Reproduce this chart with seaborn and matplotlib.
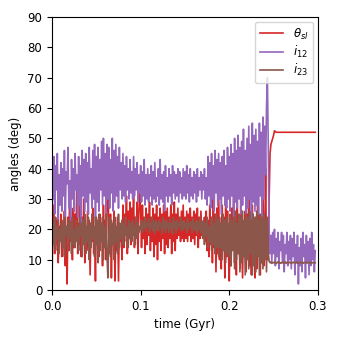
import numpy as np
import pandas as pd
import seaborn as sns
import matplotlib.pyplot as plt

theta_sl = [
    4, 22, 28, 12, 24, 15, 23, 9, 21, 17,
    25, 11, 22, 14, 26, 8, 20, 2, 24, 13,
    35, 16, 23, 10, 27, 14, 25, 18, 34, 12,
    22, 15, 28, 11, 24, 17, 30, 9, 21, 14,
    26, 13, 23, 5, 22, 16, 27, 12, 20, 3,
    24, 15, 21, 11, 25, 17, 22, 8, 28, 14,
    23, 10, 30, 47, 18, 12, 25, 4, 21, 15,
    26, 3, 20, 13, 24, 3, 22, 16, 19, 10,
    28, 14, 25, 18, 31, 12, 26, 17, 29, 15,
    27, 19, 32, 14, 24, 18, 29, 12, 26, 33,
    26, 14, 28, 17, 24, 12, 27, 15, 25, 18,
    29, 13, 24, 16, 27, 11, 25, 15, 28, 10,
    24, 16, 27, 13, 25, 17, 28, 12, 26, 15,
    27, 14, 24, 17, 28, 12, 25, 16, 29, 13,
    25, 17, 27, 18, 24, 16, 26, 17, 28, 16,
    24, 17, 26, 16, 25, 18, 27, 16, 24, 17,
    26, 15, 25, 18, 27, 14, 24, 17, 26, 18,
    22, 17, 24, 16, 26, 13, 23, 11, 28, 15,
    24, 9, 30, 14, 25, 6, 27, 12, 33, 10,
    22, 7, 28, 15, 24, 4, 31, 11, 26, 13,
    3, 22, 8, 27, 14, 35, 9, 23, 5, 30,
    12, 24, 7, 29, 16, 4, 22, 11, 26, 6,
    25, 13, 33, 8, 21, 5, 28, 10, 19, 4,
    24, 7, 30, 12, 18, 5, 22, 9, 36, 8,
    15, 40, 11, 10, 10, 30, 45, 48, 49, 50,
    51, 52.5, 52.2, 52, 52, 52, 52, 52, 52, 52,
    52, 52, 52, 52, 52, 52, 52, 52, 52, 52,
    52, 52, 52, 52, 52, 52, 52, 52, 52, 52,
    52, 52, 52, 52, 52, 52, 52, 52, 52, 52,
    52, 52, 52, 52, 52, 52, 52, 52,
]

i12 = [
    47, 30, 44, 25, 41, 33, 45, 22, 38, 28,
    42, 26, 40, 31, 46, 24, 39, 35, 47, 27,
    36, 23, 43, 30, 40, 26, 45, 33, 38, 24,
    44, 28, 41, 22, 46, 31, 43, 26, 45, 29,
    42, 25, 47, 32, 40, 27, 46, 30, 48, 24,
    44, 29, 47, 26, 43, 33, 49, 28, 50, 31,
    45, 25, 48, 30, 47, 27, 43, 32, 50, 26,
    46, 29, 48, 31, 44, 27, 47, 33, 42, 30,
    45, 31, 41, 29, 44, 33, 40, 30, 43, 32,
    39, 30, 44, 31, 40, 33, 42, 29, 38, 32,
    41, 29, 39, 31, 43, 28, 38, 30, 40, 29,
    38, 31, 41, 28, 39, 30, 42, 29, 37, 31,
    40, 28, 43, 30, 38, 29, 39, 26, 41, 31,
    37, 29, 40, 31, 38, 28, 41, 32, 39, 30,
    38, 31, 40, 29, 39, 32, 37, 30, 40, 31,
    39, 30, 41, 32, 38, 29, 40, 31, 37, 30,
    39, 32, 38, 29, 40, 31, 37, 33, 39, 30,
    38, 33, 40, 30, 37, 28, 44, 31, 42, 27,
    45, 30, 41, 26, 46, 32, 43, 28, 45, 30,
    42, 25, 44, 31, 46, 28, 41, 27, 47, 30,
    44, 26, 48, 31, 45, 24, 50, 29, 46, 27,
    51, 30, 47, 25, 49, 28, 53, 31, 46, 24,
    50, 27, 54, 30, 48, 23, 55, 29, 51, 26,
    53, 28, 49, 25, 55, 31, 52, 24, 57, 30,
    54, 38, 60, 70, 48, 20, 12, 18, 9, 19,
    12, 20, 8, 17, 11, 19, 7, 16, 13, 19,
    9, 18, 6, 15, 12, 19, 8, 16, 10, 18,
    7, 17, 11, 19, 5, 15, 9, 18, 2, 14,
    8, 17, 6, 19, 11, 15, 4, 18, 9, 16,
    5, 17, 8, 19, 10, 15, 6, 13,
]

i23 = [
    18, 22, 15, 24, 13, 21, 17, 23, 12, 20,
    16, 23, 14, 22, 11, 24, 18, 21, 13, 23,
    17, 22, 12, 24, 15, 20, 14, 23, 16, 21,
    13, 24, 18, 22, 11, 23, 15, 25, 12, 21,
    16, 24, 10, 22, 14, 25, 17, 21, 11, 24,
    15, 23, 9, 25, 13, 22, 16, 24, 10, 21,
    14, 25, 12, 4, 17, 24, 11, 23, 15, 22,
    10, 24, 16, 21, 12, 25, 14, 22, 17, 23,
    15, 22, 18, 24, 16, 21, 14, 23, 17, 22,
    16, 23, 18, 21, 15, 24, 17, 22, 19, 21,
    20, 23, 19, 22.5, 20.5, 24, 19.5, 22, 21, 23.5,
    19, 22, 20.5, 24, 19.5, 22.5, 18.5, 23, 20, 22,
    19.5, 23, 21, 22, 18.5, 24, 20, 22.5, 19, 23,
    20.5, 22, 19, 23.5, 20, 22, 18.5, 24, 20.5, 22.5,
    19, 23, 20, 22, 21, 24, 19.5, 22.5, 20, 23,
    20.5, 22, 19, 23.5, 20, 22, 21, 22.5, 19, 23.5,
    20, 22, 19.5, 23, 18.5, 22.5, 20, 24, 19, 22.5,
    17, 23, 15, 22, 18, 24, 14, 21, 16, 23,
    13, 24, 15, 22, 12, 25, 14, 23, 11, 24,
    14, 22, 10, 25, 13, 23, 9, 24, 12, 22,
    11, 25, 8, 23, 13, 24, 7, 26, 10, 22,
    12, 25, 6, 24, 9, 26, 11, 23, 5, 25,
    10, 24, 7, 26, 12, 23, 5, 25, 8, 24,
    6, 26, 11, 23, 5, 25, 9, 24, 7, 25,
    10, 23, 6, 24, 12, 9.5, 9.0, 9.2, 8.8, 9.0,
    9.1, 8.9, 9.2, 8.8, 9.0, 9.3, 8.9, 9.1, 8.8, 9.0,
    9.2, 8.9, 9.0, 9.3, 8.8, 9.1, 9.0, 8.9, 9.2, 9.0,
    8.8, 9.1, 9.0, 9.2, 8.9, 9.0, 9.3, 8.8, 9.1, 9.0,
    8.9, 9.2, 9.0, 8.8, 9.1, 9.0, 9.2, 8.9, 9.0, 9.1,
    8.9, 9.0, 9.2, 8.8, 9.1, 9.0, 8.9, 9.0,
]

time = np.arange(len(theta_sl)) * 0.001

plt.figure(figsize=(3.4, 3.4), dpi=100)
plt.rcParams['font.size'] = 8.5

sns.lineplot(x=time, y=theta_sl, color="tab:red", lw=1.2, label=r"$\theta_{sl}$")
sns.lineplot(x=time, y=i12, color="tab:purple", lw=1.2, label=r"$i_{12}$")
ax = sns.lineplot(x=time, y=i23, color="tab:brown", lw=1.2, label=r"$i_{23}$")

ax.set_xlim(0, 0.3)
ax.set_ylim(0, 90)
ax.set_xticks([0.0, 0.1, 0.2, 0.3])
ax.set_xlabel("time (Gyr)")
ax.set_ylabel("angles (deg)")
ax.legend(loc="upper right", labelspacing=0.2, borderaxespad=0.4)

plt.subplots_adjust(left=0.153, right=0.935, bottom=0.147, top=0.95)
plt.savefig("out.png", dpi=100)
